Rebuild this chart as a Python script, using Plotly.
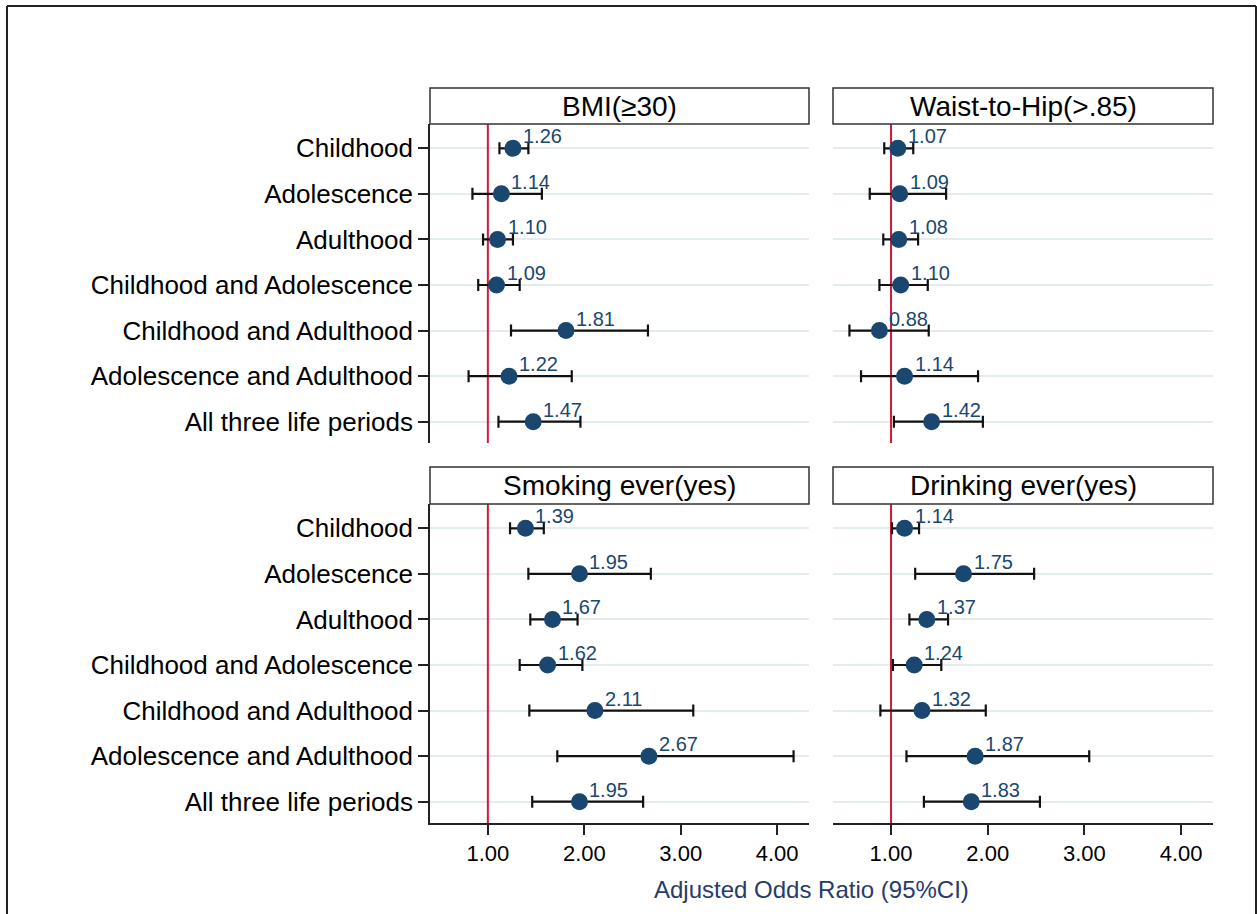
import plotly.graph_objects as go

# Life periods (rows, top to bottom)
periods = [
    "Childhood",
    "Adolescence",
    "Adulthood",
    "Childhood and Adolescence",
    "Childhood and Adulthood",
    "Adolescence and Adulthood",
    "All three life periods",
]

panel_titles = ["BMI(≥30)", "Waist-to-Hip(>.85)", "Smoking ever(yes)", "Drinking ever(yes)"]

# Adjusted odds ratios with 95% CI bounds
bmi_or = [1.26, 1.14, 1.10, 1.09, 1.81, 1.22, 1.47]
bmi_lo = [1.12, 0.84, 0.95, 0.90, 1.24, 0.80, 1.11]
bmi_hi = [1.42, 1.56, 1.26, 1.33, 2.66, 1.87, 1.96]

whr_or = [1.07, 1.09, 1.08, 1.10, 0.88, 1.14, 1.42]
whr_lo = [0.93, 0.78, 0.92, 0.88, 0.57, 0.69, 1.03]
whr_hi = [1.23, 1.57, 1.28, 1.38, 1.39, 1.90, 1.95]

smk_or = [1.39, 1.95, 1.67, 1.62, 2.11, 2.67, 1.95]
smk_lo = [1.23, 1.42, 1.44, 1.33, 1.43, 1.72, 1.46]
smk_hi = [1.58, 2.69, 1.93, 1.98, 3.13, 4.17, 2.61]

drk_or = [1.14, 1.75, 1.37, 1.24, 1.32, 1.87, 1.83]
drk_lo = [1.01, 1.25, 1.19, 1.02, 0.89, 1.16, 1.34]
drk_hi = [1.29, 2.48, 1.59, 1.52, 1.98, 3.05, 2.54]

x_ticks = [1, 2, 3, 4]
null_or = 1.0
x_title = "Adjusted Odds Ratio (95%CI)"

W, H = 1257, 914
FONT = "Liberation Sans, Arial, Helvetica, sans-serif"
NAVY = "#1a476f"
GRID = "#e3ecef"
RED = "#d41a3a"
Y_RANGE = [6.467, -0.533]


def px(x):
    return x / W


def py(y):
    return 1 - y / H


# panel boxes in pixels: (left, right) and (header_top, header_bottom, plot_bottom)
cols = [(430, 809), (833, 1213)]
rows = [(88, 124, 443), (467, 504, 823)]

series = [
    (bmi_or, bmi_lo, bmi_hi),
    (whr_or, whr_lo, whr_hi),
    (smk_or, smk_lo, smk_hi),
    (drk_or, drk_lo, drk_hi),
]

fig = go.Figure()
layout = dict(
    width=W,
    height=H,
    margin=dict(l=0, r=0, t=0, b=0),
    paper_bgcolor="white",
    plot_bgcolor="white",
    showlegend=False,
    font=dict(family=FONT, color="black"),
)
shapes = []
annotations = []

y_idx = list(range(len(periods)))

for k, (ors, lo, hi) in enumerate(series):
    r, c = divmod(k, 2)
    x0, x1 = cols[c]
    ht, hb, pb = rows[r]
    n = k + 1
    xa = "x" if n == 1 else f"x{n}"
    ya = "y" if n == 1 else f"y{n}"
    xkey = "xaxis" if n == 1 else f"xaxis{n}"
    ykey = "yaxis" if n == 1 else f"yaxis{n}"

    # reference line at OR = 1, spanning the full panel height
    fig.add_trace(
        go.Scatter(
            x=[null_or, null_or],
            y=Y_RANGE,
            mode="lines",
            xaxis=xa,
            yaxis=ya,
            line=dict(color=RED, width=2),
            hoverinfo="skip",
        )
    )

    fig.add_trace(
        go.Scatter(
            x=ors,
            y=y_idx,
            mode="markers",
            xaxis=xa,
            yaxis=ya,
            marker=dict(size=17, color=NAVY),
            error_x=dict(
                type="data",
                symmetric=False,
                array=[h - o for h, o in zip(hi, ors)],
                arrayminus=[o - l for o, l in zip(ors, lo)],
                color="#111111",
                thickness=2.2,
                width=6,
            ),
            cliponaxis=False,
            hoverinfo="skip",
        )
    )

    bottom_row = r == 1
    left_col = c == 0
    layout[xkey] = dict(
        domain=[px(x0), px(x1)],
        anchor=ya,
        range=[0.4, 4.33],
        showgrid=False,
        zeroline=False,
        showline=bottom_row,
        linecolor="#222222",
        linewidth=1.5,
        ticks="outside" if bottom_row else "",
        ticklen=10,
        tickwidth=1.5,
        tickcolor="#222222",
        tickvals=x_ticks,
        tickformat=".2f",
        showticklabels=bottom_row,
        tickfont=dict(size=22, family=FONT, color="black"),
        fixedrange=True,
    )
    layout[ykey] = dict(
        domain=[py(pb), py(hb)],
        anchor=xa,
        range=Y_RANGE,
        tickvals=y_idx,
        ticktext=periods,
        showticklabels=left_col,
        showgrid=True,
        gridcolor=GRID,
        gridwidth=1.5,
        zeroline=False,
        showline=left_col,
        linecolor="#222222",
        linewidth=1.5,
        ticks="outside" if left_col else "",
        ticklen=10,
        tickwidth=1.5,
        tickcolor="#222222",
        tickfont=dict(size=26, family=FONT, color="black"),
        automargin=False,
        fixedrange=True,
    )

    # panel header box
    shapes.append(
        dict(
            type="rect",
            xref="paper",
            yref="paper",
            x0=px(x0),
            x1=px(x1),
            y0=py(hb),
            y1=py(ht),
            line=dict(color="#333333", width=1.5),
            fillcolor="white",
        )
    )
    annotations.append(
        dict(
            text=panel_titles[k],
            xref="paper",
            yref="paper",
            x=(px(x0) + px(x1)) / 2,
            y=(py(hb) + py(ht)) / 2,
            xanchor="center",
            yanchor="middle",
            showarrow=False,
            font=dict(size=28, family=FONT, color="black"),
        )
    )

    # value labels next to each estimate
    for yi, v in zip(y_idx, ors):
        annotations.append(
            dict(
                text=f"{v:.2f}",
                xref=xa,
                yref=ya,
                x=v,
                y=yi,
                xanchor="left",
                yanchor="middle",
                xshift=8,
                yshift=12,
                showarrow=False,
                font=dict(size=20, family=FONT, color=NAVY),
            )
        )

# shared x-axis title
annotations.append(
    dict(
        text=x_title,
        xref="paper",
        yref="paper",
        x=px(811),
        y=py(889),
        xanchor="center",
        yanchor="middle",
        showarrow=False,
        font=dict(size=24, family=FONT, color="#263c6b"),
    )
)

# outer frame
for fx0, fy0, fx1, fy1 in [(7, 6, 1256, 6), (7, 6, 7, 920), (1256, 6, 1256, 920)]:
    shapes.append(
        dict(
            type="line",
            xref="paper",
            yref="paper",
            x0=px(fx0),
            x1=px(fx1),
            y0=py(fy0),
            y1=py(fy1),
            line=dict(color="#222222", width=2),
        )
    )

layout["shapes"] = shapes
layout["annotations"] = annotations
fig.update_layout(**layout)

fig.write_html("out.html")
